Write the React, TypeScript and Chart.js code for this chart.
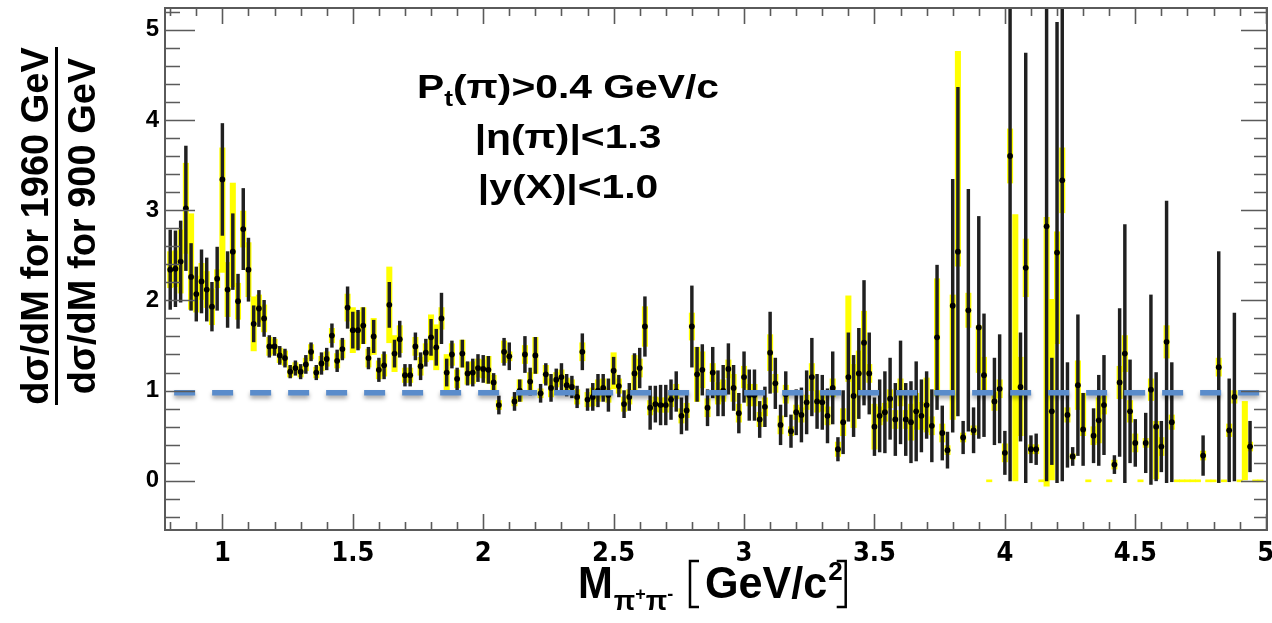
import React, { useEffect, useRef } from "react";
import { Chart, registerables } from "chart.js";

Chart.register(...registerables);

// ---------------- data ----------------
// histogram binning: 20 MeV bins, first bin centred at 0.80 GeV/c^2
const FIRST_BIN = 0.8;
const BIN_WIDTH = 0.02;

// ratio dsigma/dM(1960) / dsigma/dM(900); null = empty bin
const ratio: (number | null)[] = [
  2.34, 2.35, 2.43, 3.02, 2.26, 2.07, 2.21, 2.12, 1.93, 2.24,
  3.34, 2.12, 2.54, 1.99, 2.79, 2.34, 1.74, 1.91, 1.80, 1.49,
  1.49, 1.39, 1.36, 1.21, 1.25, 1.21, 1.29, 1.43, 1.20, 1.30,
  1.35, 1.61, 1.33, 1.46, 1.92, 1.67, 1.67, 1.72, 1.36, 1.60,
  1.23, 1.28, 1.95, 1.41, 1.57, 1.17, 1.17, 1.49, 1.27, 1.42,
  1.59, 1.48, 1.80, 1.20, 1.40, 1.13, 1.41, 1.19, 1.20, 1.25,
  1.24, 1.23, 1.09, 0.84, 1.43, 1.38, 0.88, 1.00, 1.40, 1.10,
  1.39, 0.97, 1.18, 1.03, 1.12, 1.15, 1.06, 1.04, 0.93, 1.43,
  0.90, 0.93, 1.00, 1.03, 0.95, 1.22, 1.05, 0.85, 0.93, 1.19,
  1.25, 1.71, 0.81, 0.85, 0.84, 0.84, 0.90, 0.99, 0.72, 0.78,
  1.71, 1.18, 1.23, 0.81, 1.20, 0.97, 1.00, 1.24, 1.03, 0.75,
  1.15, 0.95, 0.95, 0.68, 0.82, 1.42, 1.08, 0.62, 0.96, 0.55,
  0.76, 0.73, 0.87, 1.15, 0.88, 0.87, 0.72, 1.03, 0.35, 0.65,
  1.15, 0.94, 1.19, 1.53, 1.19, 0.60, 0.72, 0.76, 0.91, 0.68,
  0.98, 0.68, 0.65, 0.77, 0.72, 0.84, 0.61, 1.59, 0.53, 0.34,
  1.94, 2.54, 0.48, 1.89, 0.56, 1.70, 1.17, null, 0.88, 1.02,
  0.31, 3.60, null, 1.04, 2.36, 0.35, 0.35, null, 2.82, 0.77,
  2.53, 3.33, 0.73, 0.27, 1.06, 0.57, null, 0.50, 0.67, 0.84,
  null, 0.18, 1.09, 1.41, 0.77, 0.42, null, 0.42, 1.01, 0.60,
  0.38, 1.54, 0.65, null, null, null, null, null, 0.28, null,
  null, 1.26, null, 0.56, 0.93, null, null, 0.38, null, null,
];

// statistical errors (black bars)
const statErr: number[] = [
  0.44, 0.42, 0.45, 0.69, 0.37, 0.30, 0.35, 0.35, 0.27, 0.35,
  0.62, 0.42, 0.42, 0.30, 0.45, 0.35, 0.20, 0.20, 0.20, 0.12,
  0.10, 0.10, 0.10, 0.07, 0.08, 0.08, 0.10, 0.10, 0.08, 0.12,
  0.12, 0.13, 0.12, 0.12, 0.23, 0.20, 0.22, 0.20, 0.12, 0.18,
  0.13, 0.15, 0.25, 0.15, 0.20, 0.12, 0.12, 0.15, 0.15, 0.15,
  0.20, 0.20, 0.28, 0.15, 0.15, 0.12, 0.15, 0.13, 0.15, 0.15,
  0.15, 0.15, 0.10, 0.10, 0.15, 0.15, 0.10, 0.12, 0.20, 0.15,
  0.20, 0.10, 0.12, 0.15, 0.12, 0.15, 0.12, 0.12, 0.12, 0.20,
  0.12, 0.15, 0.18, 0.15, 0.18, 0.15, 0.12, 0.15, 0.15, 0.22,
  0.22, 0.33, 0.24, 0.20, 0.22, 0.22, 0.22, 0.22, 0.20, 0.22,
  0.45, 0.30, 0.28, 0.20, 0.28, 0.25, 0.28, 0.28, 0.25, 0.22,
  0.28, 0.28, 0.28, 0.20, 0.22, 0.45, 0.28, 0.22, 0.25, 0.18,
  0.25, 0.30, 0.35, 0.43, 0.30, 0.30, 0.30, 0.40, 0.13, 0.35,
  0.49, 0.45, 0.50, 0.69, 0.45, 0.32, 0.40, 0.45, 0.45, 0.40,
  0.57, 0.40, 0.45, 0.55, 0.40, 0.37, 0.40, 0.80, 0.30, 0.20,
  1.40, 1.82, 0.18, 1.34, 0.25, 1.23, 0.68, 0, 0.48, 0.60,
  0.24, 3.60, 0, 0.60, 2.38, 0.15, 0.17, 0, 2.82, 0.59,
  2.55, 3.33, 0.58, 0.10, 0.78, 0.40, 0, 0.30, 0.50, 0.55,
  0, 0.10, 0.82, 1.43, 0.57, 0.26, 0, 0.33, 1.05, 0.60,
  0.28, 1.56, 0.66, 0, 0, 0, 0, 0, 0.22, 0,
  0, 1.28, 0, 0.57, 0.93, 0, 0, 0.28, 0, 0,
];

// systematic errors (yellow bands), symmetric part
const sysErr: number[] = [
  0.20, 0.20, 0.35, 0.50, 0.40, 0.20, 0.20, 0.20, 0.20, 0.10,
  0.65, 0.30, 0.55, 0.20, 0.20, 0.30, 0.30, 0.15, 0.15, 0.10,
  0.08, 0.08, 0.08, 0.06, 0.06, 0.06, 0.07, 0.08, 0.06, 0.08,
  0.08, 0.08, 0.08, 0.10, 0.15, 0.25, 0.20, 0.20, 0.10, 0.20,
  0.10, 0.12, 0.42, 0.20, 0.15, 0.08, 0.08, 0.10, 0.10, 0.10,
  0.25, 0.25, 0.12, 0.20, 0.12, 0.10, 0.15, 0.12, 0.12, 0.10,
  0.10, 0.15, 0.08, 0.05, 0.12, 0.05, 0.05, 0.12, 0.10, 0.10,
  0.20, 0.05, 0.10, 0.10, 0.08, 0.08, 0.08, 0.08, 0.08, 0.10,
  0.08, 0.10, 0.12, 0.10, 0.08, 0.20, 0.08, 0.08, 0.08, 0.20,
  0.10, 0.22, 0.08, 0.08, 0.08, 0.08, 0.08, 0.08, 0.08, 0.08,
  0.15, 0.30, 0.20, 0.10, 0.10, 0.12, 0.12, 0.10, 0.15, 0.10,
  0.12, 0.12, 0.12, 0.08, 0.10, 0.20, 0.10, 0.10, 0.10, 0.05,
  0.08, 0.08, 0.08, 0.15, 0.12, 0.10, 0.10, 0.10, 0.08, 0.15,
  0.10, 0.35, 0.25, 0.35, 0.10, 0.25, 0.10, 0.10, 0.10, 0.10,
  0.15, 0.10, 0.20, 0.20, 0.15, 0.30, 0.10, 0.65, 0.10, 0.05,
  0, 0, 0.05, 0.19, 0.05, 0, 0.20, 0, 0.10, 0.10,
  0.10, 0.30, 0, 0, 0.32, 0.05, 0.05, 0, 0, 0,
  0, 0.36, 0.08, 0.03, 0.27, 0, 0, 0.10, 0.25, 0.10,
  0, 0.05, 0.18, 0.20, 0.12, 0.10, 0, 0.05, 0.12, 0,
  0.10, 0.18, 0.08, 0, 0, 0, 0, 0, 0.05, 0,
  0, 0.10, 0, 0.07, 0.07, 0, 0, 0.05, 0, 0,
];

// bins whose systematic band is asymmetric (up / down from the point)
const sysAsym = [
  { bin: 4, up: 0.7, down: 0.36 },
  { bin: 10, up: 0.35, down: 1.03 },
  { bin: 12, up: 0.76, down: 0.39 },
  { bin: 130, up: 0.9, down: 0.05 },
  { bin: 150, up: 0.12, down: 1.26 },
  { bin: 151, up: 2.22, down: 0.16 },
  { bin: 155, up: 0.02, down: 0.5 },
  { bin: 163, up: 0.33, down: 0.54 },
  { bin: 168, up: 0.1, down: 2.88 },
  { bin: 169, up: 1.24, down: 0.76 },
  { bin: 170, up: 0.23, down: 1.01 },
  { bin: 175, up: 0.4, down: 0.07 },
  { bin: 189, up: 0.06, down: 0.58 },
];

// bins showing only a systematic band (no measured point)
const bandOnly = [
  { bin: 162, low: 0, high: 2.95 },
  { bin: 206, low: 0.01, high: 0.88 },
];

const referenceLevel = 0.975;
const referenceFrom = 0.815;
const referenceTo = 4.995;

const X_MIN = 0.78;
const X_MAX = 5.005;
const Y_MIN = -0.545;
const Y_MAX = 5.24;
const xTickStep = 0.5;
const yTickStep = 1;

const cutLines = ["(π)>0.4 GeV/c", "|η(π)|<1.3", "|y(X)|<1.0"];
const yTitleNum = "dσ/dM for 1960 GeV";
const yTitleDen = "dσ/dM for 900 GeV";

// ---------------- drawing helpers ----------------
const FONT = "'Liberation Sans', Arial, Helvetica, sans-serif";
const NARROW = "'Liberation Sans Narrow', 'DejaVu Sans Condensed', 'Liberation Sans', sans-serif";

function run(ctx: CanvasRenderingContext2D, s: string, x: number, y: number, size: number, sx = 1, measureOnly = false) {
  ctx.font = `bold ${size}px ${FONT}`;
  const w = ctx.measureText(s).width * sx;
  if (!measureOnly) {
    ctx.save();
    ctx.translate(x, y);
    ctx.scale(sx, 1);
    ctx.textAlign = "left";
    ctx.textBaseline = "alphabetic";
    ctx.fillText(s, 0, 0);
    ctx.restore();
  }
  return w;
}

type Piece = { t: string; size: number; dy?: number };
function line(ctx: CanvasRenderingContext2D, pieces: Piece[], cx: number, y: number, sx: number) {
  let total = 0;
  pieces.forEach((p) => (total += run(ctx, p.t, 0, 0, p.size, sx, true)));
  let x = cx - total / 2;
  pieces.forEach((p) => {
    x += run(ctx, p.t, x, y + (p.dy || 0), p.size, sx);
  });
}

const framePlugin = {
  id: "rootFrame",
  beforeDatasetDraw(chart: any, args: any) {
    if (args.index === 0) {
      const ctx = chart.ctx;
      ctx.save();
      ctx.shadowColor = "rgba(0,0,0,0.35)";
      ctx.shadowBlur = 4;
      ctx.shadowOffsetY = 3;
    }
  },
  afterDatasetDraw(chart: any, args: any) {
    if (args.index === 0) chart.ctx.restore();
  },
  afterDraw(chart: any) {
    const ctx: CanvasRenderingContext2D = chart.ctx;
    const { left, right, top, bottom } = chart.chartArea;
    const xs = chart.scales.x;
    const ys = chart.scales.y;
    ctx.save();
    // ticks
    ctx.strokeStyle = "#5a5a5a";
    ctx.lineWidth = 1.6;
    ctx.beginPath();
    for (let i = -2; i <= 26; i++) {
      const v = i * 0.2;
      if (v < Y_MIN || v > Y_MAX) continue;
      const p = Math.round(ys.getPixelForValue(v)) + 0.5;
      const major = i % 5 === 0;
      ctx.moveTo(left, p);
      ctx.lineTo(left + (major ? 30 : 15), p);
      ctx.moveTo(right, p);
      ctx.lineTo(right - (major ? 26 : 13), p);
    }
    for (let i = 8; i <= 50; i++) {
      const v = i * 0.1;
      const p = Math.round(xs.getPixelForValue(v)) + 0.5;
      const major = i % 5 === 0;
      ctx.moveTo(p, bottom);
      ctx.lineTo(p, bottom - (major ? 16 : 8));
      ctx.moveTo(p, top);
      ctx.lineTo(p, top + (major ? 16 : 8));
    }
    ctx.stroke();
    // frame
    ctx.strokeStyle = "#5a5a5a";
    ctx.lineWidth = 2;
    ctx.strokeRect(left, top, right - left, bottom - top);

    ctx.fillStyle = "#000";
    // cut annotations
    const cx = 568;
    line(ctx, [{ t: "P", size: 34 }, { t: "t", size: 22, dy: 8 }, { t: cutLines[0], size: 34 }], cx, 98, 1.2);
    line(ctx, [{ t: cutLines[1], size: 34 }], cx, 148, 1.2);
    line(ctx, [{ t: cutLines[2], size: 34 }], cx, 198, 1.2);

    // y title (fraction, rotated)
    ctx.save();
    ctx.translate(0, 226);
    ctx.rotate(-Math.PI / 2);
    ctx.font = `bold 38px ${FONT}`;
    ctx.textAlign = "center";
    ctx.textBaseline = "alphabetic";
    ctx.fillText(yTitleNum, 0, 48);
    ctx.fillRect(-179, 55, 358, 3);
    ctx.fillText(yTitleDen, 0, 95);
    ctx.restore();

    // x title  M_{pi+pi-} [GeV/c^2]
    let x = 578;
    const base = 598;
    x += run(ctx, "M", x, base, 44, 0.95);
    x += 1;
    x += run(ctx, "π", x, base + 12, 28);
    x += run(ctx, "+", x, base + 2, 18);
    x += run(ctx, "π", x, base + 12, 28);
    x += run(ctx, "-", x, base + 2, 18);
    // left bracket
    const bx = 690;
    ctx.lineWidth = 2.5;
    ctx.strokeStyle = "#000";
    ctx.beginPath();
    ctx.moveTo(bx + 9, 561);
    ctx.lineTo(bx, 561);
    ctx.lineTo(bx, 607);
    ctx.lineTo(bx + 9, 607);
    ctx.stroke();
    x = bx + 15;
    x += run(ctx, "GeV/c", x, base, 44, 0.98);
    x += run(ctx, "2", x + 1, base - 18, 26) + 4;
    ctx.beginPath();
    ctx.moveTo(x - 9, 561);
    ctx.lineTo(x, 561);
    ctx.lineTo(x, 607);
    ctx.lineTo(x - 9, 607);
    ctx.stroke();
    ctx.restore();
  },
};

export default function App() {
  const ref = useRef<HTMLCanvasElement>(null);
  useEffect(() => {
    document.body.style.margin = "0";
    const canvas = ref.current;
    if (!canvas) return;

    const sysBand: any[] = [];
    const statBand: any[] = [];
    const points: any[] = [];
    ratio.forEach((v, i) => {
      const x = +(FIRST_BIN + i * BIN_WIDTH).toFixed(2);
      if (v === null) {
        const b = bandOnly.find((q) => q.bin === i);
        sysBand.push({ x, y: b ? [b.low, b.high] : [0, 0] });
        return;
      }
      const a = sysAsym.find((q) => q.bin === i);
      const up = a ? a.up : sysErr[i];
      const dn = a ? a.down : sysErr[i];
      if (up + dn > 0) sysBand.push({ x, y: [v - dn, v + up] });
      if (statErr[i] > 0) statBand.push({ x, y: [v - statErr[i], v + statErr[i]] });
      points.push({ x, y: v });
    });

    const chart = new Chart(canvas, {
      type: "bar",
      data: {
        datasets: [
          {
            type: "line",
            data: [
              { x: referenceFrom, y: referenceLevel },
              { x: referenceTo, y: referenceLevel },
            ],
            borderColor: "#5a8ccb",
            borderWidth: 5.5,
            borderDash: [21, 17],
            borderCapStyle: "butt",
            pointRadius: 0,
            order: 0,
          } as any,
          {
            type: "scatter",
            data: points,
            pointRadius: 2.9,
            pointBackgroundColor: "#000",
            pointBorderWidth: 0,
            order: 1,
          } as any,
          {
            type: "bar",
            data: statBand,
            backgroundColor: "#202020",
            barThickness: 2.8,
            grouped: false,
            order: 2,
          } as any,
          {
            type: "bar",
            data: sysBand,
            backgroundColor: "#ffff00",
            barThickness: 5.4,
            grouped: false,
            minBarLength: 2,
            order: 3,
          } as any,
        ],
      },
      options: {
        animation: false,
        responsive: false,
        events: [],
        layout: { padding: { left: 0, right: 5, top: 8, bottom: 0 } },
        plugins: { legend: { display: false }, tooltip: { enabled: false } },
        scales: {
          x: {
            type: "linear",
            min: X_MIN,
            max: X_MAX,
            offset: false,
            grid: { display: false, drawTicks: false },
            border: { display: false },
            ticks: {
              stepSize: xTickStep,
              includeBounds: false,
              autoSkip: false,
              maxRotation: 0,
              padding: 8,
              color: "#000",
              font: { family: NARROW, size: 27, weight: "bold" },
              callback: (v: any) => String(Math.round(Number(v) * 10) / 10),
            },
            afterFit: (s: any) => {
              s.height = 93;
              s.paddingLeft = 0;
              s.paddingRight = 0;
            },
          },
          y: {
            type: "linear",
            min: Y_MIN,
            max: Y_MAX,
            grid: { display: false, drawTicks: false },
            border: { display: false },
            ticks: {
              stepSize: yTickStep,
              includeBounds: false,
              padding: 6,
              color: "#000",
              font: { family: FONT, size: 24, weight: "bold" },
            },
            afterFit: (s: any) => {
              s.width = 165;
              s.paddingTop = 0;
              s.paddingBottom = 0;
            },
          },
        },
      } as any,
      plugins: [framePlugin],
    });
    return () => chart.destroy();
  }, []);

  return (
    <div style={{ width: 1272, height: 623 }}>
      <canvas ref={ref} width={1272} height={623} style={{ display: "block" }} />
    </div>
  );
}
